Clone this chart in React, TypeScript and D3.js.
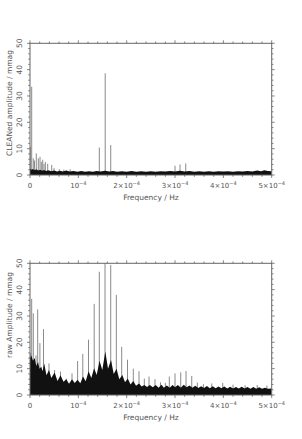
import * as d3 from 'd3';

// frequencies in µHz (axis shows Hz), amplitudes in mmag

// CLEANed spectrum: isolated peaks (drawn as thin grey lines)
const cleanPeaks: [number, number][] = [
  [0.6, 10.7], [3.5, 33.5], [6.8, 6.3], [9.3, 5.5], [13, 8.2], [17.2, 6.3],
  [20.7, 6.9], [23.4, 5], [26.3, 5.8], [29, 4.2], [31.7, 5], [36.6, 4.3],
  [44.9, 3.8], [49.7, 2.6], [60.6, 2.2], [70, 2], [83, 2.2],
  [143.4, 10.4], [155.6, 38.6], [167, 11.4],
  [300, 3.5], [310.4, 4], [322.2, 4.4],
];

// CLEANed spectrum: upper edge of the dense noise band
const cleanNoise: [number, number][] = [
  [0, 2.4], [3, 2.0], [6, 2.3], [9, 1.8], [13, 2.2], [17, 1.7], [21, 2.0], [25, 1.6],
  [29, 1.9], [33, 1.5], [38, 1.8], [44, 1.4], [50, 1.7], [56, 1.3], [62, 1.6], [68, 1.3],
  [75, 1.7], [82, 1.3], [90, 1.5], [98, 1.2], [106, 1.5], [114, 1.2], [122, 1.4], [130, 1.2],
  [138, 1.5], [146, 1.3], [155, 1.6], [164, 1.3], [172, 1.5], [180, 1.2], [190, 1.4], [200, 1.2],
  [210, 1.5], [220, 1.2], [230, 1.4], [240, 1.2], [250, 1.4], [260, 1.2], [270, 1.4], [280, 1.3],
  [290, 1.5], [300, 1.3], [310, 1.6], [320, 1.3], [330, 1.5], [340, 1.2], [350, 1.4], [360, 1.2],
  [370, 1.4], [380, 1.2], [390, 1.4], [400, 1.3], [410, 1.4], [420, 1.2], [430, 1.4], [440, 1.3],
  [450, 1.5], [460, 1.3], [470, 1.7], [478, 1.4], [485, 1.8], [492, 1.5], [500, 1.4],
];

// raw spectrum: alias comb peaks
const rawPeaks: [number, number][] = [
  [1.4, 16], [3.5, 36.5], [6.8, 31], [12.4, 15], [15.9, 32.5], [20.5, 19.7], [27.9, 25],
  [39.3, 12], [50.9, 9.5], [63.1, 8.9], [75.1, 6.2], [86.9, 8.2], [98.5, 12.9], [109.2, 15.6],
  [121, 21], [132.8, 34.6], [143.4, 46.8], [155.2, 52], [167, 49.4], [178.6, 38], [189.7, 18.3],
  [201.7, 13.4], [213.7, 10], [225.5, 9], [236.5, 6.2], [246.2, 7], [258.6, 6], [270, 4.8],
  [280, 4.6], [288.2, 7], [300, 8.2], [311.8, 8.6], [322.8, 9.1], [334.6, 7.2], [346.2, 4.7],
  [358.6, 4.1], [376, 4.4], [398.7, 4.6], [420, 3.9], [445, 3.7], [470, 3.8], [490, 3.6],
];

// raw spectrum: upper edge of the dense black noise
const rawNoise: [number, number][] = [
  [0, 14], [2.7, 15], [6.2, 13], [9.7, 14], [13, 11], [16.6, 12.5], [19.7, 10], [23.4, 10.7],
  [25.9, 9], [29.4, 12], [34.1, 7.5], [39.3, 9.5], [44.1, 6.5], [50.9, 8.5], [56.9, 5.3],
  [63.1, 7.5], [69.3, 5], [75.1, 6], [80.7, 4.3], [86.9, 6], [92.5, 4.6], [98.3, 5.8],
  [104.1, 4.5], [109.7, 7], [115.2, 5.2], [121.2, 9], [126.8, 6.5], [132.6, 10.2], [138, 7.6],
  [143.8, 13], [149.6, 9.5], [155.8, 16.5], [161.4, 10], [167.6, 13.3], [173.2, 8], [179, 10],
  [184.8, 6], [191, 7.6], [196.6, 4.8], [202.2, 6.3], [208, 4], [213.7, 5.3], [219.3, 3.5],
  [225.5, 4.4], [231.1, 3.2], [236.5, 3.8], [242.1, 3], [248, 3.8], [254, 2.9], [260, 3.8],
  [266, 2.8], [272, 3.9], [277, 2.8], [283, 3.6], [289, 2.8], [295, 3.8], [300, 2.9], [306, 3.8],
  [312, 2.8], [318, 3.9], [324, 2.9], [330, 3.6], [336, 2.8], [342, 3.5], [348, 2.7], [354, 3.3],
  [360, 2.7], [366, 3.4], [372, 2.6], [378, 3.3], [384, 2.6], [390, 3.2], [396, 2.6], [402, 3.2],
  [408, 2.5], [414, 3.1], [420, 2.5], [426, 3.0], [432, 2.5], [438, 3.1], [444, 2.5], [450, 3.0],
  [456, 2.4], [462, 3.0], [468, 2.4], [474, 2.9], [480, 2.4], [486, 2.8], [492, 2.4], [500, 2.5],
];

const xMajor = [0, 100, 200, 300, 400, 500];
const xMult = ['0', '', '2×', '3×', '4×', '5×'];
const yMajor = [0, 10, 20, 30, 40, 50];

const FONT = 'DejaVu Sans, sans-serif';
const TXT = '#555';
const AX = '#666';

const x = d3.scaleLinear().domain([0, 500]).range([30, 271.7]);

function Panel({ top, bottom, peaks, noise, ylabel, ylabelY, id }) {
  const y = d3.scaleLinear().domain([0, 50]).range([bottom, top]);
  const [x0, x1] = x.range();
  const area = d3.area<[number, number]>()
    .x((d) => x(d[0]))
    .y0(y(0))
    .y1((d) => y(d[1]));
  const xMinor = d3.range(0, 501, 20);
  const yMinor = d3.range(0, 51, 2);
  const xTicks = (yy: number, dir: number) =>
    xMinor.map((v) => {
      const len = v % 100 === 0 ? 3 : 1.8;
      return <line key={v} x1={x(v)} x2={x(v)} y1={yy} y2={yy + dir * len} stroke={AX} strokeWidth={0.8} />;
    });
  const yTicks = (xx: number, dir: number) =>
    yMinor.map((v) => {
      const len = v % 10 === 0 ? 3 : 1.8;
      return <line key={v} x1={xx} x2={xx + dir * len} y1={y(v)} y2={y(v)} stroke={AX} strokeWidth={0.8} />;
    });
  return (
    <g>
      <defs>
        <clipPath id={id}>
          <rect x={x0} y={top} width={x1 - x0} height={bottom - top} />
        </clipPath>
      </defs>
      <g clipPath={`url(#${id})`}>
        {peaks.map((d, i) => (
          <line key={i} x1={x(d[0])} x2={x(d[0])} y1={y(0)} y2={y(d[1])} stroke="#8a8a8a" strokeWidth={1} />
        ))}
        <path d={area(noise) ?? ''} fill="#111" />
      </g>
      <rect x={x0} y={top} width={x1 - x0} height={bottom - top} fill="none" stroke={AX} strokeWidth={1} />
      {xTicks(bottom, 1)}
      {xTicks(top, -1)}
      {yTicks(x0, -1)}
      {yTicks(x1, 1)}
      {yMajor.map((v) => (
        <text key={v} transform={`translate(${21.5},${y(v)}) rotate(-90)`} textAnchor="middle"
          fontFamily={FONT} fontSize={7.5} fill={TXT}>{v}</text>
      ))}
      {xMajor.map((v, i) => (
        <text key={v} x={x(v)} y={bottom + 12.5} textAnchor="middle" fontFamily={FONT} fontSize={7} fill={TXT}>
          {i === 0 ? '0' : (
            <>
              {xMult[i]}10<tspan dy={-3} fontSize={5}>−4</tspan>
            </>
          )}
        </text>
      ))}
      <text x={151} y={bottom + 24.5} textAnchor="middle" fontFamily={FONT} fontSize={7.5} fill={TXT}>
        Frequency / Hz
      </text>
      <text transform={`translate(${12},${ylabelY}) rotate(-90)`} textAnchor="middle"
        fontFamily={FONT} fontSize={7.5} fill={TXT}>{ylabel}</text>
    </g>
  );
}

export default function App() {
  return (
    <svg width={302} height={439} style={{ position: 'absolute', left: 0, top: 0, background: '#fff' }}>
      <Panel id="c1" top={43.3} bottom={175} peaks={cleanPeaks} noise={cleanNoise}
        ylabel="CLEANed amplitude / mmag" ylabelY={103} />
      <Panel id="c2" top={263.3} bottom={395} peaks={rawPeaks} noise={rawNoise}
        ylabel="raw Amplitude / mmag" ylabelY={315} />
    </svg>
  );
}
